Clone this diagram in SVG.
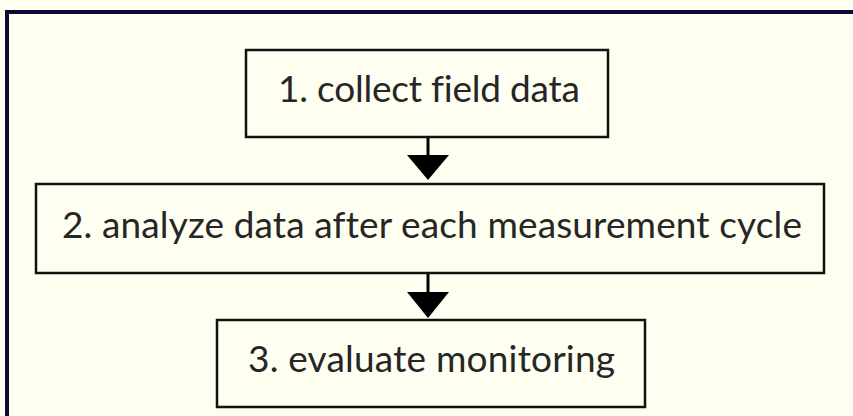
<svg xmlns="http://www.w3.org/2000/svg" width="853" height="416" viewBox="0 0 853 416">
<style>
.bg{fill:#fefff0}
.frame{fill:none;stroke:#0a0b35;stroke-width:4}
.box{fill:#fefff0;stroke:#111;stroke-width:2.5}
.lbl{font-family:Lato,"Open Sans","Liberation Sans",sans-serif;font-size:37px;fill:#262626;font-variant-ligatures:none}
.stem{stroke:#000;stroke-width:3}
.head{fill:#000}
</style>
<rect class="bg" x="0" y="0" width="853" height="416"/>
<path class="frame" d="M7,418 V12 H855"/>
<g id="connectors">
<line class="stem" x1="428" y1="137" x2="428" y2="157"/>
<polygon class="head" points="407,155 449,155 428,180"/>
<line class="stem" x1="428" y1="273" x2="428" y2="294"/>
<polygon class="head" points="407,292 449,292 428,318"/>
</g>
<g id="node1">
<rect class="box" x="246" y="50" width="362" height="87"/>
<text class="lbl" x="278" y="102" textLength="302" lengthAdjust="spacing">1. collect field data</text>
</g>
<g id="node2">
<rect class="box" x="36" y="184" width="788" height="89"/>
<text class="lbl" x="62" y="238" textLength="740" lengthAdjust="spacing">2. analyze data after each measurement cycle</text>
</g>
<g id="node3">
<rect class="box" x="217" y="320" width="428" height="87"/>
<text class="lbl" x="248" y="372" textLength="367" lengthAdjust="spacing">3. evaluate monitoring</text>
</g>
</svg>
